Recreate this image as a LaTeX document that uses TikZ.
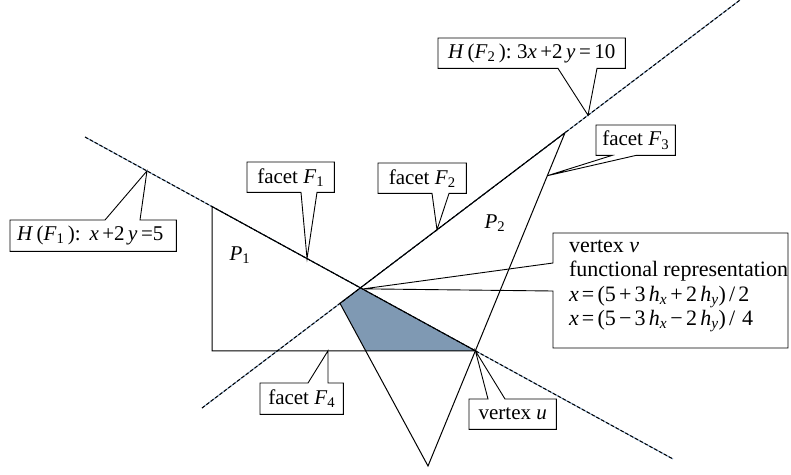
\documentclass[tikz,border=0pt]{standalone}
\usepackage{fontspec}
\setmainfont{Liberation Serif}
\usetikzlibrary{calc}
\definecolor{regionfill}{RGB}{127,153,179}
\definecolor{hypblue}{RGB}{120,152,188}
\newcommand\gp{\hspace{3.2pt}}
\begin{document}
\begin{tikzpicture}[x=1pt,y=-1pt,
  every node/.style={font=\fontsize{21}{22}\selectfont},
  hypbase/.style={draw=hypblue,line width=1pt},
  hypdash/.style={draw=black,line width=1pt,dash pattern=on 3.5pt off 2pt},
  polyedge/.style={draw=black,line width=1pt,line join=miter},
  callbox/.style={inner sep=0pt,minimum height=30pt,anchor=north west,align=center},
  callline/.style={draw=black,line width=0.9pt,line join=miter}]
\useasboundingbox (0,0) rectangle (791,474);
% hyperplanes
\coordinate (H1a) at (85,137);
\coordinate (H1b) at (673,459);
\coordinate (H2a) at (202,408);
\coordinate (H2b) at (740,0);
% polytope points
\coordinate (A) at ($(H1a)!0.216!(H1b)$);
\coordinate (L) at ($(H2a)!0.2565!(H2b)$);
\coordinate (T) at ($(H2a)!0.6747!(H2b)$);
\coordinate (B) at (428,466);
\coordinate (v) at (intersection of H1a--H1b and H2a--H2b);
\coordinate (u) at (intersection of H1a--H1b and T--B);
\coordinate (Ab) at (A |- u);
\coordinate (s) at (intersection of L--B and Ab--u);
% shaded region
\fill[regionfill] (L) -- (v) -- (u) -- (s) -- cycle;
% hyperplanes
\draw[hypbase] (H1a) -- (H1b);
\draw[hypdash] (H1a) -- (H1b);
\draw[hypbase] (H2a) -- (H2b);
\draw[hypdash] (H2a) -- (H2b);
% polytopes
\draw[polyedge] (A) -- (Ab) -- (u) -- cycle;
\draw[polyedge] (T) -- (L) -- (B) -- cycle;
\node (p1) at (240,255) {\textit{P}\textsubscript{1}};
\node (p2) at (495,223) {\textit{P}\textsubscript{2}};
% callout tips
\coordinate (h1tip) at ($(H1a)!0.1054!(H1b)$);
\coordinate (f1tip) at ($(H1a)!0.3776!(H1b)$);
\coordinate (f2tip) at ($(H2a)!0.4368!(H2b)$);
\coordinate (h2tip) at ($(H2a)!0.7175!(H2b)$);
\coordinate (f3tip) at ($(T)!0.129!(B)$);
\coordinate (f4tip) at (328,0 |- u);
\coordinate (vtip) at ($(v)+(3,1)$);
% H(F1)
\node[callbox,minimum width=166pt,minimum height=31pt] (h1) at (10,220)
  {\textit{H}\,(\textit{F}\textsubscript{1}\,):\ \,\textit{x}\,+2\,\textit{y}\,=5\hspace{6pt}};
\draw[callline] ($(h1.north west)+(95,0)$) -- (h1.north west) -- (h1.south west) -- (h1.south east) -- (h1.north east) -- ($(h1.north west)+(130,0)$) -- (h1tip) -- cycle;
% facet F1
\node[callbox,minimum width=87pt] (f1) at (247,162) {facet \textit{F}\textsubscript{1}};
\draw[callline] ($(f1.south west)+(54,0)$) -- (f1.south west) -- (f1.north west) -- (f1.north east) -- (f1.south east) -- ($(f1.south west)+(70,0)$) -- (f1tip) -- cycle;
% facet F2
\node[callbox,minimum width=88pt] (f2) at (378,163) {facet \textit{F}\textsubscript{2}};
\draw[callline] ($(f2.south west)+(54,0)$) -- (f2.south west) -- (f2.north west) -- (f2.north east) -- (f2.south east) -- ($(f2.south west)+(71,0)$) -- (f2tip) -- cycle;
% H(F2)
\node[callbox,minimum width=187pt] (h2) at (438,38)
  {\textit{H}\,(\textit{F}\textsubscript{2}\,):\ 3\textit{x}\,+2\,\textit{y}\,=\,10};
\draw[callline] ($(h2.south west)+(120,0)$) -- (h2.south west) -- (h2.north west) -- (h2.north east) -- (h2.south east) -- ($(h2.south west)+(159,0)$) -- (h2tip) -- cycle;
% facet F3
\node[callbox,minimum width=79pt] (f3) at (596,125) {facet \textit{F}\textsubscript{3}};
\draw[callline] ($(f3.south west)+(16,0)$) -- (f3.south west) -- (f3.north west) -- (f3.north east) -- (f3.south east) -- ($(f3.south west)+(40,0)$) -- (f3tip) -- cycle;
% facet F4
\node[callbox,minimum width=83pt,minimum height=31pt] (f4) at (260,383) {facet \textit{F}\textsubscript{4}};
\draw[callline] ($(f4.north west)+(48,0)$) -- (f4.north west) -- (f4.south west) -- (f4.south east) -- (f4.north east) -- ($(f4.north west)+(68,0)$) -- (f4tip) -- cycle;
% vertex u
\node[callbox,minimum width=87pt] (ub) at (469,399) {vertex \textit{u}};
\draw[callline] ($(ub.north west)+(19,0)$) -- (ub.north west) -- (ub.south west) -- (ub.south east) -- (ub.north east) -- ($(ub.north west)+(36,0)$) -- (u) -- cycle;
% vertex v
\node[anchor=north west,inner sep=0pt,outer sep=0pt] (vb) at (553,233)
  {\begin{minipage}[t][115pt][t]{235pt}\fontsize{22}{24.5}\selectfont\leftskip=16pt\rule{0pt}{19pt}vertex \textit{v}\\
  functional representation\\
  \textit{x}\gp=\gp(5\gp+\gp3\gp\textit{h}\textsubscript{\textit{x}}\gp+\gp2\gp\textit{h}\textsubscript{\textit{y}})\gp/\gp2\\
  \textit{x}\gp=\gp(5\gp−\gp3\gp\textit{h}\textsubscript{\textit{x}}\gp−\gp2\gp\textit{h}\textsubscript{\textit{y}})\gp/\gp\,4\end{minipage}};
\draw[callline] ($(vb.north west)+(0,30)$) -- (vb.north west) -- (vb.north east) -- (vb.south east) -- (vb.south west) -- ($(vb.north west)+(0,58)$) -- (vtip) -- cycle;
\end{tikzpicture}
\end{document}
